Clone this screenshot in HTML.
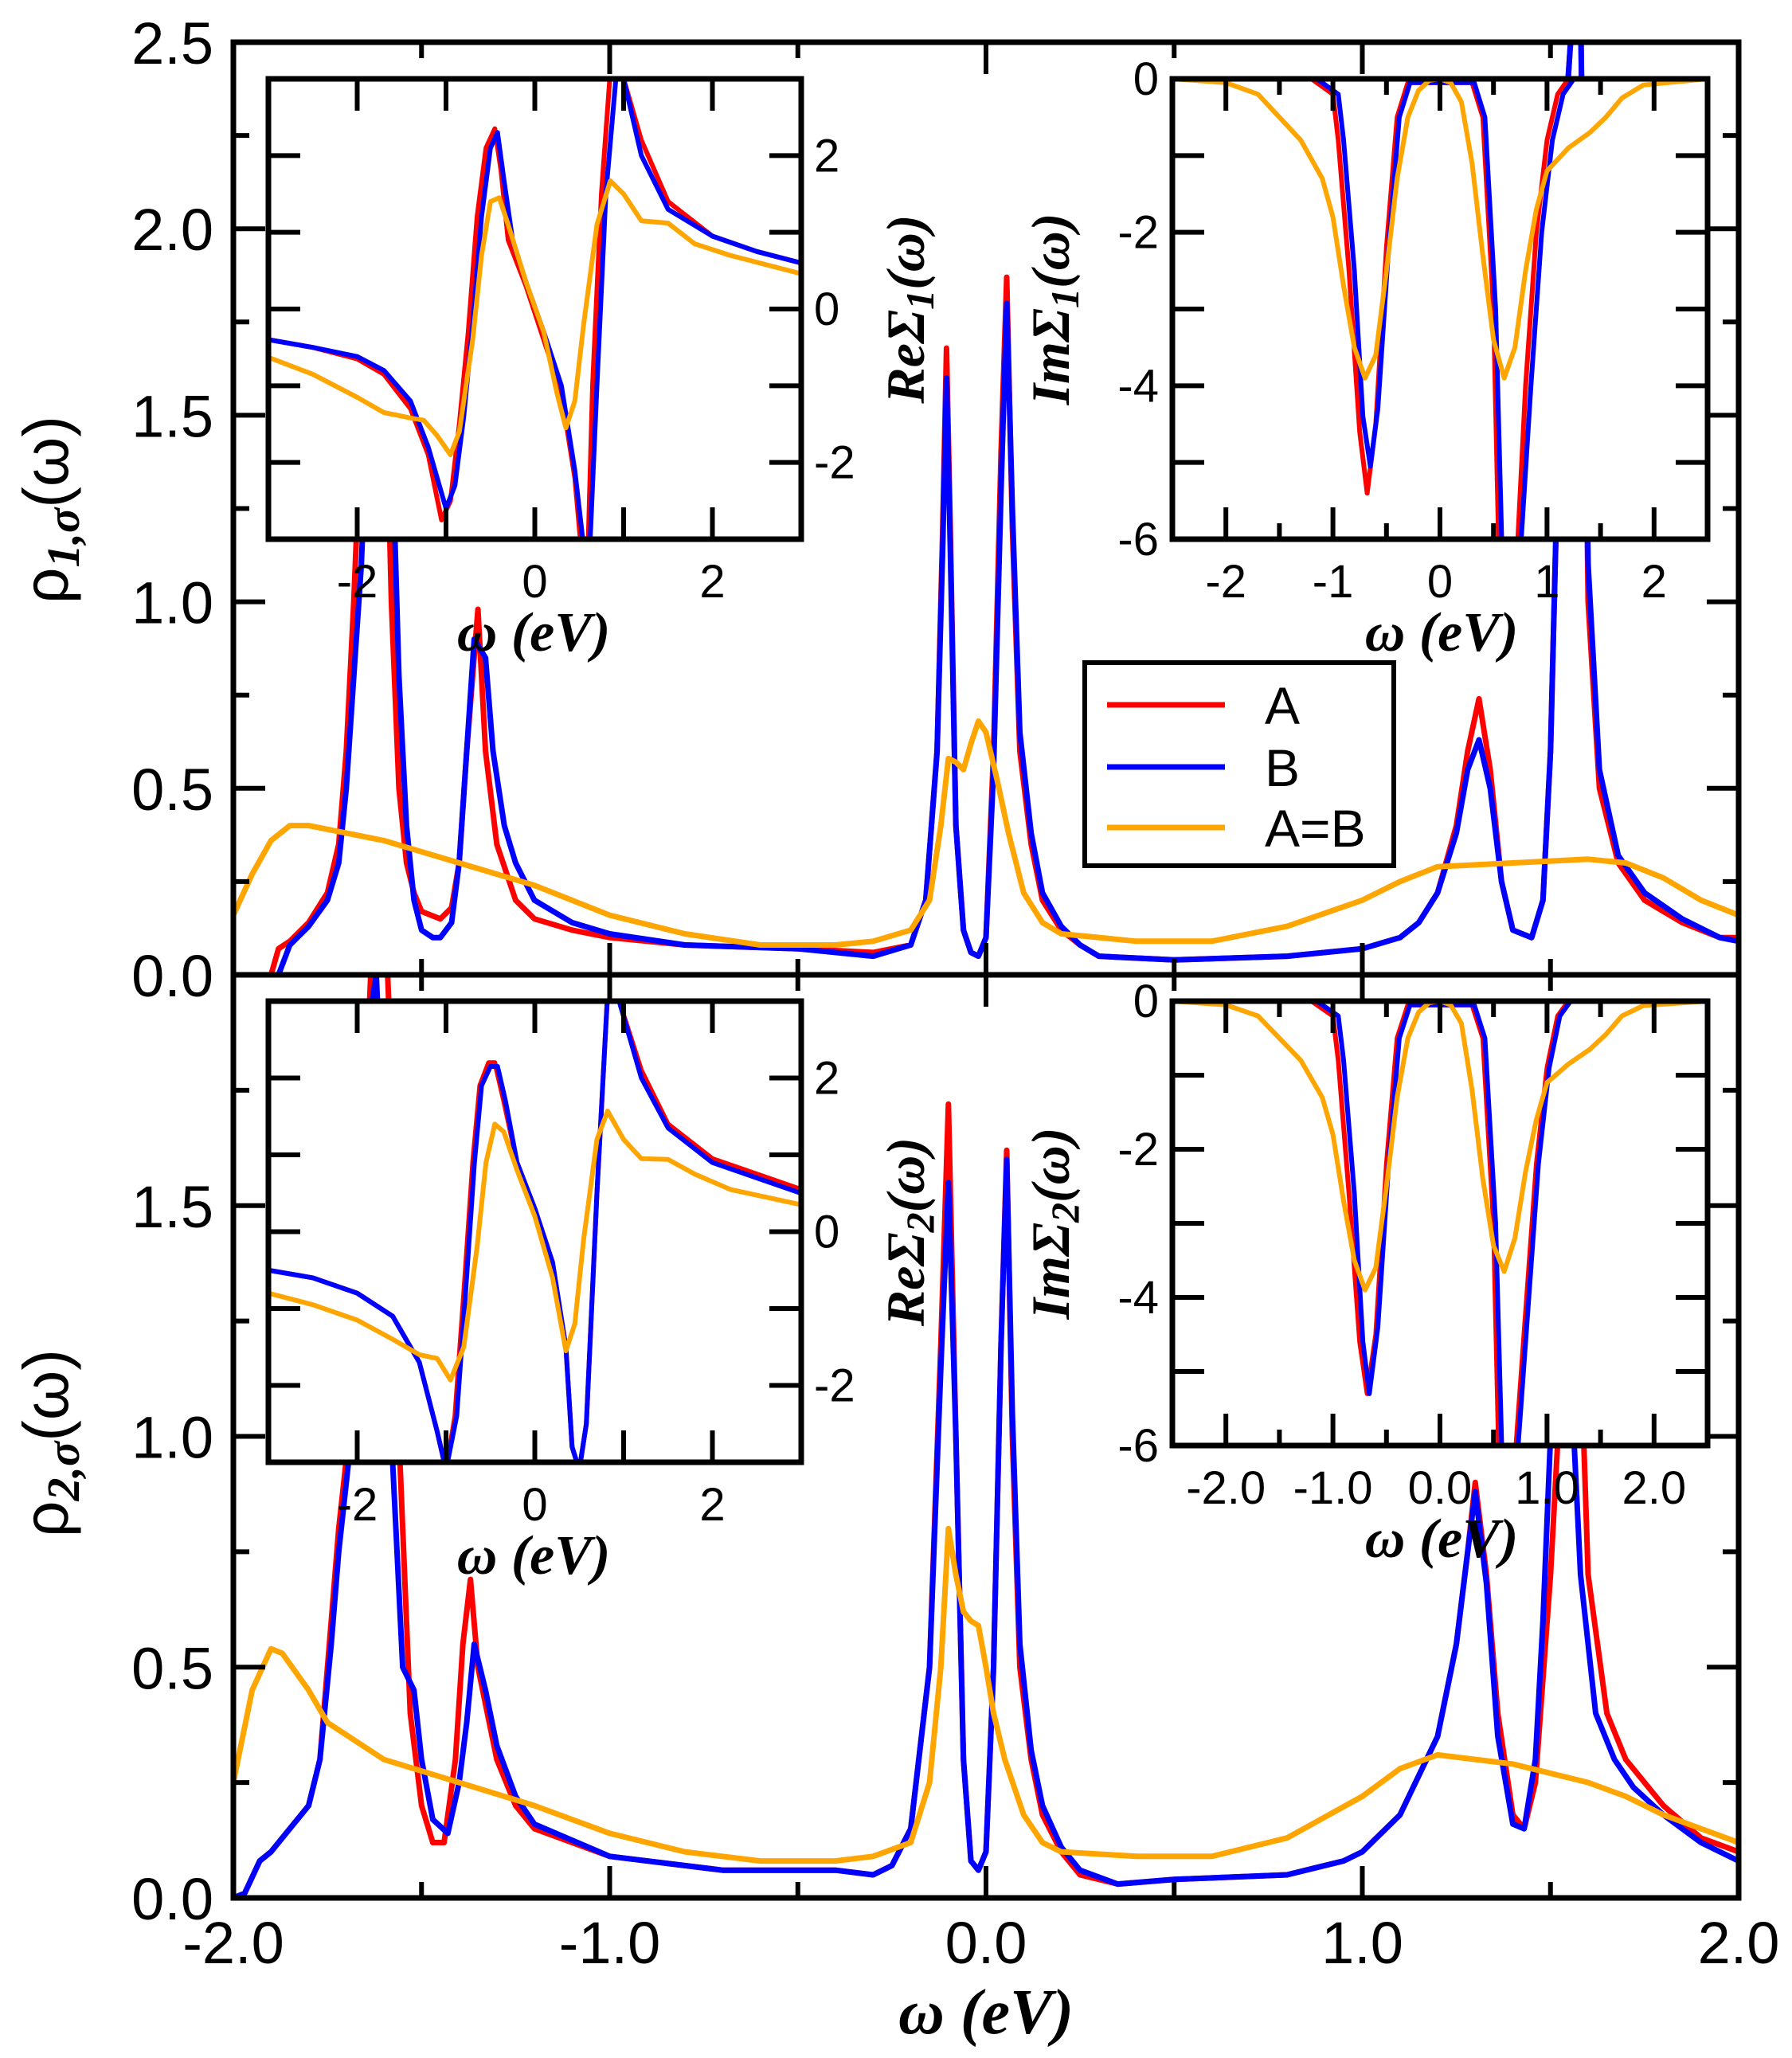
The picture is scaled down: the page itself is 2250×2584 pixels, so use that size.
<!DOCTYPE html>
<html><head><meta charset="utf-8">
<style>
html,body{margin:0;padding:0;background:#fff;}
svg{display:block;}
text{font-family:"Liberation Sans",sans-serif;}
.ser{font-family:"Liberation Serif",serif;font-weight:bold;font-style:italic;}
</style></head>
<body>
<svg id="fig" width="2250" height="2584" viewBox="0 0 2250 2584" xmlns="http://www.w3.org/2000/svg"></svg>
<script>
// ---------- DATA ----------
// main top panel (rho_1)
const m1A_x=[-2,-1.9,-1.88,-1.85,-1.8,-1.75,-1.72,-1.7,-1.68,-1.66,-1.64,-1.62,-1.6,-1.58,-1.56,-1.54,-1.52,-1.5,-1.45,-1.42,-1.4,-1.38,-1.35,-1.33,-1.3,-1.25,-1.2,-1.1,-1.0,-0.8,-0.5,-0.3,-0.2,-0.16,-0.13,-0.115,-0.105,-0.095,-0.08,-0.06,-0.04,-0.02,0,0.02,0.04,0.055,0.07,0.09,0.12,0.15,0.2,0.25,0.3,0.5,0.8,1.0,1.1,1.15,1.2,1.25,1.28,1.31,1.34,1.37,1.4,1.45,1.48,1.5,1.52,1.54,1.56,1.58,1.6,1.63,1.68,1.75,1.85,1.95,2.0];
const m1A_y=[0,0,0.07,0.09,0.14,0.22,0.35,0.6,1.0,1.5,2.1,2.3,1.8,1.0,0.5,0.3,0.22,0.17,0.15,0.18,0.3,0.6,0.98,0.6,0.35,0.2,0.15,0.12,0.1,0.08,0.07,0.06,0.08,0.2,0.6,1.2,1.68,1.2,0.4,0.12,0.06,0.05,0.1,0.6,1.4,1.87,1.2,0.6,0.35,0.2,0.12,0.08,0.05,0.04,0.05,0.07,0.1,0.14,0.22,0.4,0.6,0.74,0.55,0.25,0.12,0.1,0.2,0.6,1.4,2.3,2.6,2.6,1.0,0.5,0.3,0.2,0.14,0.1,0.1];
const m1B_x=[-2,-1.88,-1.85,-1.8,-1.75,-1.72,-1.7,-1.68,-1.66,-1.64,-1.62,-1.6,-1.58,-1.56,-1.54,-1.52,-1.5,-1.47,-1.45,-1.42,-1.4,-1.38,-1.36,-1.33,-1.31,-1.28,-1.25,-1.2,-1.1,-1.0,-0.8,-0.5,-0.3,-0.2,-0.16,-0.13,-0.115,-0.105,-0.095,-0.08,-0.06,-0.04,-0.02,0,0.02,0.04,0.055,0.07,0.09,0.12,0.15,0.2,0.25,0.3,0.5,0.8,1.0,1.1,1.15,1.2,1.25,1.28,1.31,1.34,1.37,1.4,1.45,1.48,1.5,1.52,1.54,1.56,1.58,1.6,1.63,1.68,1.75,1.85,1.95,2.0];
const m1B_y=[0,0,0.08,0.13,0.2,0.3,0.5,0.8,1.1,1.6,2.2,2.3,1.5,0.8,0.4,0.2,0.12,0.1,0.1,0.14,0.3,0.6,0.9,0.85,0.6,0.4,0.3,0.2,0.14,0.11,0.08,0.07,0.05,0.08,0.2,0.6,1.15,1.6,1.15,0.4,0.12,0.06,0.05,0.1,0.55,1.3,1.8,1.25,0.65,0.38,0.22,0.13,0.08,0.05,0.04,0.05,0.07,0.1,0.14,0.22,0.38,0.55,0.63,0.5,0.25,0.12,0.1,0.2,0.6,1.4,2.3,2.6,2.6,1.1,0.55,0.32,0.22,0.15,0.1,0.09];
const m1C_x=[-2,-1.95,-1.9,-1.85,-1.8,-1.6,-1.4,-1.2,-1.0,-0.8,-0.6,-0.4,-0.3,-0.2,-0.15,-0.12,-0.1,-0.08,-0.06,-0.04,-0.02,0,0.03,0.06,0.1,0.15,0.2,0.4,0.6,0.8,1.0,1.1,1.2,1.4,1.6,1.7,1.8,1.9,2.0];
const m1C_y=[0.16,0.27,0.36,0.4,0.4,0.36,0.3,0.24,0.16,0.11,0.08,0.08,0.09,0.12,0.2,0.4,0.58,0.57,0.55,0.62,0.68,0.65,0.52,0.38,0.22,0.14,0.11,0.09,0.09,0.13,0.2,0.25,0.29,0.3,0.31,0.3,0.26,0.2,0.16];
// main bottom panel (rho_2)
const m2A_x=[-2,-1.97,-1.93,-1.9,-1.85,-1.8,-1.77,-1.74,-1.72,-1.7,-1.68,-1.66,-1.63,-1.6,-1.58,-1.56,-1.53,-1.5,-1.47,-1.44,-1.41,-1.39,-1.37,-1.35,-1.3,-1.25,-1.2,-1.0,-0.7,-0.4,-0.3,-0.25,-0.2,-0.15,-0.12,-0.1,-0.08,-0.06,-0.04,-0.02,0,0.02,0.04,0.055,0.07,0.09,0.12,0.15,0.2,0.25,0.35,0.5,0.8,0.95,1.0,1.1,1.2,1.25,1.28,1.3,1.33,1.36,1.4,1.43,1.46,1.5,1.52,1.55,1.58,1.6,1.65,1.7,1.8,1.9,2.0];
const m2A_y=[0,0.01,0.08,0.1,0.15,0.2,0.3,0.6,0.8,0.95,1.1,1.5,2.1,2.2,1.8,1.0,0.4,0.2,0.12,0.12,0.3,0.55,0.69,0.5,0.3,0.2,0.15,0.09,0.06,0.06,0.05,0.07,0.15,0.5,1.2,1.72,1.0,0.3,0.08,0.06,0.1,0.5,1.2,1.62,1.0,0.5,0.3,0.18,0.1,0.05,0.03,0.04,0.05,0.08,0.1,0.18,0.35,0.55,0.75,0.9,0.7,0.4,0.18,0.15,0.25,0.7,1.0,1.6,1.2,0.7,0.4,0.3,0.2,0.13,0.1];
const m2B_x=[-2,-1.97,-1.93,-1.9,-1.85,-1.8,-1.77,-1.74,-1.72,-1.7,-1.68,-1.66,-1.64,-1.62,-1.6,-1.58,-1.55,-1.52,-1.5,-1.47,-1.43,-1.4,-1.38,-1.36,-1.33,-1.3,-1.25,-1.2,-1.0,-0.7,-0.4,-0.3,-0.25,-0.2,-0.15,-0.12,-0.1,-0.08,-0.06,-0.04,-0.02,0,0.02,0.04,0.055,0.07,0.09,0.12,0.15,0.2,0.25,0.35,0.5,0.8,0.95,1.0,1.1,1.2,1.25,1.28,1.3,1.33,1.36,1.4,1.43,1.46,1.48,1.5,1.52,1.55,1.58,1.62,1.67,1.72,1.8,1.9,2.0];
const m2B_y=[0,0.01,0.08,0.1,0.15,0.2,0.3,0.55,0.75,0.9,1.05,1.4,1.9,2.0,1.6,1.0,0.5,0.45,0.3,0.17,0.14,0.25,0.38,0.55,0.45,0.33,0.22,0.16,0.09,0.06,0.06,0.05,0.07,0.15,0.5,1.15,1.55,1.0,0.3,0.08,0.06,0.1,0.5,1.2,1.6,1.05,0.55,0.32,0.2,0.11,0.06,0.03,0.04,0.05,0.08,0.1,0.18,0.35,0.55,0.75,0.88,0.68,0.35,0.16,0.15,0.3,0.6,1.0,1.6,1.2,0.7,0.4,0.3,0.24,0.18,0.12,0.08];
const m2C_x=[-2,-1.95,-1.9,-1.87,-1.8,-1.75,-1.6,-1.4,-1.2,-1.0,-0.8,-0.6,-0.4,-0.3,-0.2,-0.15,-0.12,-0.1,-0.08,-0.06,-0.04,-0.02,0,0.02,0.05,0.1,0.15,0.2,0.4,0.6,0.8,1.0,1.1,1.2,1.4,1.6,1.7,1.8,1.9,2.0];
const m2C_y=[0.25,0.45,0.54,0.53,0.45,0.38,0.3,0.25,0.2,0.14,0.1,0.08,0.08,0.09,0.12,0.25,0.5,0.8,0.7,0.62,0.6,0.59,0.5,0.4,0.3,0.18,0.12,0.1,0.09,0.09,0.13,0.22,0.28,0.31,0.29,0.25,0.22,0.18,0.15,0.12];
// Re Sigma_1 inset
const r1A_x=[-3,-2.5,-2,-1.7,-1.4,-1.2,-1.05,-0.95,-0.85,-0.75,-0.65,-0.55,-0.45,-0.38,-0.3,-0.1,0.1,0.3,0.45,0.52,0.6,0.65,0.75,0.85,1.0,1.2,1.5,2.0,2.5,3];
const r1A_y=[-0.4,-0.5,-0.65,-0.85,-1.3,-1.9,-2.75,-2.5,-1.5,-0.3,1.2,2.1,2.35,1.8,0.9,0.3,-0.4,-1.1,-2.2,-3.1,-3.1,-1,1.5,3.1,3.0,2.2,1.4,0.95,0.75,0.6];
const r1B_x=[-3,-2.5,-2,-1.7,-1.4,-1.2,-1.0,-0.9,-0.8,-0.7,-0.6,-0.5,-0.42,-0.35,-0.25,-0.1,0.1,0.3,0.45,0.55,0.62,0.7,0.8,0.92,1.0,1.2,1.5,2.0,2.5,3];
const r1B_y=[-0.4,-0.5,-0.62,-0.8,-1.2,-1.8,-2.6,-2.3,-1.4,-0.2,1.2,2.1,2.3,1.7,0.9,0.35,-0.3,-1.0,-2.1,-3.1,-3.1,-1,1.5,3.1,3.0,2.0,1.3,0.95,0.75,0.6];
const r1C_x=[-3,-2.5,-2,-1.7,-1.4,-1.25,-1.1,-0.95,-0.85,-0.7,-0.6,-0.5,-0.4,-0.3,-0.1,0.1,0.25,0.35,0.45,0.55,0.7,0.85,1.0,1.2,1.5,1.8,2.2,3];
const r1C_y=[-0.63,-0.85,-1.15,-1.35,-1.42,-1.45,-1.65,-1.9,-1.6,-0.4,0.7,1.4,1.45,1.1,0.35,-0.3,-1.1,-1.55,-1.2,-0.2,1.1,1.67,1.5,1.15,1.12,0.85,0.7,0.46];
// Re Sigma_2 inset
const r2A_x=[-3,-2.5,-2,-1.6,-1.3,-1.1,-1.0,-0.9,-0.8,-0.7,-0.62,-0.52,-0.45,-0.35,-0.2,0,0.2,0.35,0.42,0.5,0.58,0.7,0.82,0.95,1.2,1.5,2.0,2.5,3];
const r2A_y=[-0.5,-0.6,-0.8,-1.1,-1.7,-2.6,-3.1,-2.4,-0.8,0.9,1.9,2.2,2.2,1.7,0.9,0.3,-0.4,-1.5,-2.8,-3.1,-2.5,0.5,3.1,3.0,2.1,1.4,0.95,0.75,0.55];
const r2B_x=[-3,-2.5,-2,-1.6,-1.3,-1.1,-1.0,-0.88,-0.78,-0.68,-0.6,-0.5,-0.42,-0.33,-0.2,0,0.2,0.35,0.42,0.5,0.58,0.7,0.82,0.95,1.2,1.5,2.0,2.5,3];
const r2B_y=[-0.5,-0.6,-0.8,-1.1,-1.7,-2.6,-3.1,-2.4,-0.8,0.9,1.9,2.15,2.15,1.7,0.9,0.3,-0.4,-1.5,-2.8,-3.1,-2.5,0.5,3.1,3.0,2.0,1.35,0.9,0.7,0.5];
const r2C_x=[-3,-2.5,-2,-1.6,-1.3,-1.1,-0.95,-0.8,-0.65,-0.55,-0.45,-0.35,-0.2,0,0.2,0.35,0.45,0.55,0.7,0.82,1.0,1.2,1.5,1.8,2.2,3];
const r2C_y=[-0.8,-0.95,-1.15,-1.4,-1.6,-1.65,-1.93,-1.5,-0.2,0.9,1.4,1.3,0.8,0.2,-0.6,-1.55,-1.2,-0.1,1.2,1.57,1.2,0.95,0.94,0.75,0.55,0.35];
// Im Sigma_1 inset
const i1A_x=[-2.5,-1.2,-1.0,-0.95,-0.85,-0.75,-0.68,-0.6,-0.5,-0.4,-0.3,0.3,0.4,0.5,0.55,0.72,0.8,0.9,1.0,1.1,1.2,2.5];
const i1A_y=[0,0,-0.2,-0.8,-2.5,-4.6,-5.4,-4.5,-2.2,-0.5,-0.05,-0.05,-0.5,-3,-6.2,-6.2,-4,-2,-0.8,-0.2,0,0];
const i1B_x=[-2.5,-1.15,-0.95,-0.9,-0.8,-0.72,-0.65,-0.58,-0.48,-0.38,-0.28,0.32,0.42,0.52,0.58,0.75,0.85,0.95,1.05,1.15,1.25,2.5];
const i1B_y=[0,0,-0.2,-0.8,-2.5,-4.4,-5.05,-4.3,-2.2,-0.5,-0.05,-0.05,-0.5,-3,-6.2,-6.2,-4,-2,-0.8,-0.2,0,0];
const i1C_x=[-2.5,-2,-1.7,-1.5,-1.3,-1.1,-1.0,-0.9,-0.8,-0.7,-0.6,-0.5,-0.4,-0.3,-0.2,-0.1,0,0.1,0.2,0.3,0.4,0.5,0.6,0.7,0.8,0.9,1.0,1.2,1.4,1.55,1.7,1.9,2.5];
const i1C_y=[0,-0.05,-0.2,-0.5,-0.8,-1.3,-1.8,-2.7,-3.5,-3.9,-3.6,-2.5,-1.3,-0.5,-0.15,-0.02,0,-0.05,-0.3,-1.1,-2.3,-3.4,-3.9,-3.5,-2.5,-1.7,-1.2,-0.9,-0.7,-0.5,-0.25,-0.08,0];
// Im Sigma_2 inset
const i2A_x=[-2.5,-1.2,-1.0,-0.95,-0.85,-0.75,-0.68,-0.6,-0.5,-0.4,-0.3,0.3,0.4,0.5,0.55,0.7,0.8,0.9,1.0,1.1,1.2,2.5];
const i2A_y=[0,0,-0.2,-0.8,-2.6,-4.6,-5.3,-4.5,-2.2,-0.5,-0.05,-0.05,-0.5,-3,-6.2,-6.2,-4.2,-2.2,-0.9,-0.2,0,0];
const i2B_x=[-2.5,-1.15,-0.95,-0.9,-0.8,-0.72,-0.66,-0.58,-0.48,-0.38,-0.28,0.32,0.42,0.52,0.58,0.72,0.82,0.92,1.02,1.12,1.22,2.5];
const i2B_y=[0,0,-0.2,-0.8,-2.6,-4.6,-5.3,-4.4,-2.2,-0.5,-0.05,-0.05,-0.5,-3,-6.2,-6.2,-4.2,-2.2,-0.9,-0.2,0,0];
const i2C_x=[-2.5,-2,-1.7,-1.5,-1.3,-1.1,-1.0,-0.9,-0.8,-0.7,-0.6,-0.5,-0.4,-0.3,-0.2,-0.1,0,0.1,0.2,0.3,0.4,0.5,0.6,0.7,0.8,0.9,1.0,1.2,1.4,1.55,1.7,1.9,2.5];
const i2C_y=[0,-0.05,-0.2,-0.5,-0.8,-1.3,-1.8,-2.7,-3.5,-3.9,-3.6,-2.5,-1.3,-0.5,-0.15,-0.02,0,-0.05,-0.3,-1.2,-2.4,-3.3,-3.65,-3.2,-2.3,-1.6,-1.1,-0.85,-0.65,-0.45,-0.2,-0.06,0];
const ticksMainX=[-2.0,-1.0,0.0,1.0,2.0];
const ticksMainXLabels=["-2.0","-1.0","0.0","1.0","2.0"];
const ticksTopY=[0,0.5,1.0,1.5,2.0,2.5];
const ticksTopYLabels=["0.0","0.5","1.0","1.5","2.0","2.5"];
const ticksBotY=[0,0.5,1.0,1.5];
const ticksBotYLabels=["0.0","0.5","1.0","1.5"];
const ticksReX=[-2,0,2];
const ticksReY=[-2,0,2];
const ticksImY=[0,-2,-4,-6];
const ticksIm1X=[-2,-1,0,1,2];
const ticksIm1XLabels=["-2","-1","0","1","2"];
const ticksIm2XLabels=["-2.0","-1.0","0.0","1.0","2.0"];

// ---------- DRAWING ----------
const NS="http://www.w3.org/2000/svg";
const svg=document.getElementById('fig');
function el(tag,attrs,parent){const e=document.createElementNS(NS,tag);for(const k in attrs)e.setAttribute(k,attrs[k]);(parent||svg).appendChild(e);return e;}
let clipId=0;
function panel(name,L,T,R,B,x0,x1,y0,y1,series,lw){
  const g=el('g',{});
  
  
  const sx=v=>L+(v-x0)/(x1-x0)*(R-L);
  const sy=v=>B-(v-y0)/(y1-y0)*(B-T);
  const id='c'+(clipId++);
  const cp=el('clipPath',{id:id},g);el('rect',{x:L,y:T,width:R-L,height:B-T},cp);
  el('rect',{x:L,y:T,width:R-L,height:B-T,fill:'#fff'},g);
  const cg=el('g',{'clip-path':'url(#'+id+')'},g);
  series.forEach(s=>{
    const d=s.x.map((v,i)=>(i?'L':'M')+sx(v).toFixed(1)+','+sy(s.y[i]).toFixed(1)).join(' ');
    const p=el('path',{d:d,fill:'none',stroke:s.c,'stroke-width':lw,'stroke-linejoin':'round'},cg);
    
    
  });
  return {g,sx,sy};
}
function ticks(g,L,T,R,B,sx,sy,xs,ys,lenMaj,lenMin,xmin,ymin){
  const st={stroke:'#000','stroke-width':6};
  xs.forEach(v=>{const x=sx(v);el('line',Object.assign({x1:x,y1:B,x2:x,y2:B-lenMaj},st),g);el('line',Object.assign({x1:x,y1:T,x2:x,y2:T+lenMaj},st),g);});
  (xmin||[]).forEach(v=>{const x=sx(v);el('line',Object.assign({x1:x,y1:B,x2:x,y2:B-lenMin},st),g);el('line',Object.assign({x1:x,y1:T,x2:x,y2:T+lenMin},st),g);});
  ys.forEach(v=>{const y=sy(v);el('line',Object.assign({x1:L,y1:y,x2:L+lenMaj,y2:y},st),g);el('line',Object.assign({x1:R,y1:y,x2:R-lenMaj,y2:y},st),g);});
  (ymin||[]).forEach(v=>{const y=sy(v);el('line',Object.assign({x1:L,y1:y,x2:L+lenMin,y2:y},st),g);el('line',Object.assign({x1:R,y1:y,x2:R-lenMin,y2:y},st),g);});
  el('rect',{x:L,y:T,width:R-L,height:B-T,fill:'none',stroke:'#000','stroke-width':7},g);
}
function txt(s,x,y,size,anchor,cls,name,rot){
  const t=el('text',{x:x,y:y,'font-size':size,'text-anchor':anchor||'middle'});
  if(cls)t.setAttribute('class',cls);
  if(rot)t.setAttribute('transform','rotate(-90 '+x+' '+y+')');
  t.innerHTML=s;
  
  
  return t;
}
const RED='#ff0000',BLUE='#0000ff',OR='#ffa500';
const L=293,R=2183,T=53,M=1224,B=2383;
// main panels
const p1=panel('top-panel',L,T,R,M,-2,2,0,2.5,[{x:m1A_x,y:m1A_y,c:RED,n:'rho1-A-line'},{x:m1B_x,y:m1B_y,c:BLUE,n:'rho1-B-line'},{x:m1C_x,y:m1C_y,c:OR,n:'rho1-AB-line'}],7);
ticks(p1.g,L,T,R,M,p1.sx,p1.sy,[-1,0,1],ticksTopY,40,20,[-1.5,-0.5,0.5,1.5],[0.25,0.75,1.25,1.75,2.25]);
const p2=panel('bottom-panel',L,M,R,B,-2,2,0,2,[{x:m2A_x,y:m2A_y,c:RED,n:'rho2-A-line'},{x:m2B_x,y:m2B_y,c:BLUE,n:'rho2-B-line'},{x:m2C_x,y:m2C_y,c:OR,n:'rho2-AB-line'}],7);
ticks(p2.g,L,M,R,B,p2.sx,p2.sy,[-1,0,1],ticksBotY,40,20,[-1.5,-0.5,0.5,1.5],[0.25,0.75,1.25,1.75]);
ticksTopY.forEach((v,i)=>txt(ticksTopYLabels[i],268,p1.sy(v)+27,74,'end','','y-tick-top'));
ticksBotY.forEach((v,i)=>txt(ticksBotYLabels[i],268,p2.sy(v)+27,74,'end','','y-tick-bottom'));
ticksMainX.forEach((v,i)=>txt(ticksMainXLabels[i],p2.sx(v),2465,74,'middle','','x-tick'));
txt('ω (<tspan>eV</tspan>)',1238,2553,80,'middle','ser','x-axis-title');
txt('ρ<tspan font-size="58" class="ser" dy="14">1,σ</tspan><tspan dy="-14">(ω)</tspan>',85,640,80,'middle','','y-axis-title-top',true);
txt('ρ<tspan font-size="58" class="ser" dy="14">2,σ</tspan><tspan dy="-14">(ω)</tspan>',85,1812,80,'middle','','y-axis-title-bottom',true);
// insets
function reInset(name,T0,B0,A_x,A_y,B_x,B_y,C_x,C_y,lab,labName){
  const Li=337,Ri=1006;
  const p=panel(name,Li,T0,Ri,B0,-3,3,-3,3,[{x:A_x,y:A_y,c:RED,n:name+'-A'},{x:B_x,y:B_y,c:BLUE,n:name+'-B'},{x:C_x,y:C_y,c:OR,n:name+'-AB'}],6);
  ticks(p.g,Li,T0,Ri,B0,p.sx,p.sy,[-2,0,2],[-2,-1,0,1,2],40,40,[-1,1],[]);
  ticksReX.forEach(v=>txt(String(v).replace('-','-'),p.sx(v),B0+73,58,'middle','',name+'-x-tick'));
  ticksReY.forEach(v=>txt(String(v),1022,p.sy(v)+20,58,'start','',name+'-y-tick'));
  txt('ω (<tspan>eV</tspan>)',670,B0+140,70,'middle','ser',name+'-x-title');
  txt(lab,1160,(T0+B0)/2,68,'middle','ser',labName,true);
}
function imInset(name,T0,B0,A_x,A_y,B_x,B_y,C_x,C_y,xl,lab,labName){
  const Li=1472,Ri=2144;
  const p=panel(name,Li,T0,Ri,B0,-2.5,2.5,-6,0,[{x:A_x,y:A_y,c:RED,n:name+'-A'},{x:B_x,y:B_y,c:BLUE,n:name+'-B'},{x:C_x,y:C_y,c:OR,n:name+'-AB'}],6);
  ticks(p.g,Li,T0,Ri,B0,p.sx,p.sy,ticksIm1X,[0,-1,-2,-3,-4,-5,-6],40,20,[-1.5,-0.5,0.5,1.5],[]);
  ticksIm1X.forEach((v,i)=>txt(xl[i],p.sx(v),B0+73,58,'middle','',name+'-x-tick'));
  ticksImY.forEach(v=>txt(String(v),1455,p.sy(v)+20,58,'end','',name+'-y-tick'));
  txt('ω (<tspan>eV</tspan>)',1810,B0+140,70,'middle','ser',name+'-x-title');
  txt(lab,1342,(T0+B0)/2,68,'middle','ser',labName,true);
}
reInset('re-sigma1-inset',99,677,r1A_x,r1A_y,r1B_x,r1B_y,r1C_x,r1C_y,'ReΣ<tspan font-size="50" dy="12">1</tspan><tspan dy="-12">(ω)</tspan>','re-sigma1-label');
imInset('im-sigma1-inset',99,677,i1A_x,i1A_y,i1B_x,i1B_y,i1C_x,i1C_y,ticksIm1XLabels,'ImΣ<tspan font-size="50" dy="12">1</tspan><tspan dy="-12">(ω)</tspan>','im-sigma1-label');
reInset('re-sigma2-inset',1257,1836,r2A_x,r2A_y,r2B_x,r2B_y,r2C_x,r2C_y,'ReΣ<tspan font-size="50" dy="12">2</tspan><tspan dy="-12">(ω)</tspan>','re-sigma2-label');
imInset('im-sigma2-inset',1257,1815,i2A_x,i2A_y,i2B_x,i2B_y,i2C_x,i2C_y,ticksIm2XLabels,'ImΣ<tspan font-size="50" dy="12">2</tspan><tspan dy="-12">(ω)</tspan>','im-sigma2-label');
// legend
const lg=el('g',{});


el('rect',{x:1362,y:832,width:388,height:255,fill:'#fff',stroke:'#000','stroke-width':6},lg);
[['A',RED,885],['B',BLUE,963],['A=B',OR,1039]].forEach(e=>{
  const ln=el('line',{x1:1390,y1:e[2],x2:1538,y2:e[2],stroke:e[1],'stroke-width':7},lg);
  
  
  const t=txt(e[0],1588,e[2]+24,66,'start','','legend-entry');
  lg.appendChild(t);
});
</script>
</body></html>
